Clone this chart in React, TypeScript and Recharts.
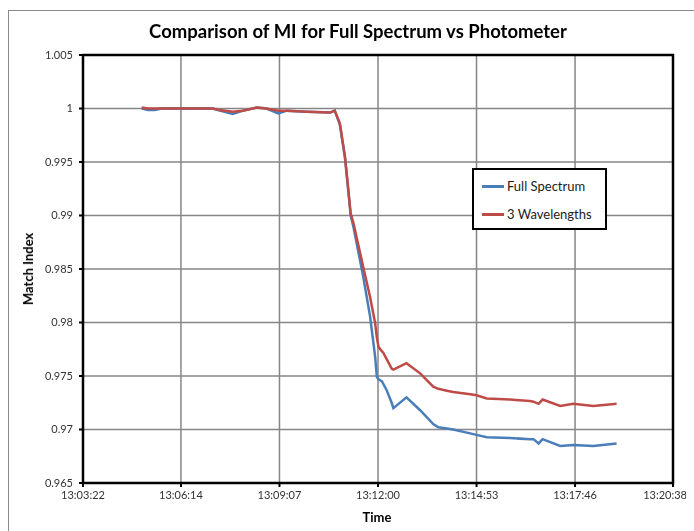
import { LineChart, Line, XAxis, YAxis, CartesianGrid, ReferenceArea } from 'recharts'

// sample times (hh:mm:ss)
const times = [
  '13:05:05', '13:05:16', '13:05:28', '13:05:40', '13:07:10', '13:07:22', '13:07:45', '13:08:03',
  '13:08:27', '13:08:44', '13:09:05', '13:09:20', '13:09:55', '13:10:36', '13:10:44', '13:10:53',
  '13:11:02', '13:11:08', '13:11:12', '13:11:17', '13:11:34', '13:11:46', '13:11:55', '13:11:58',
  '13:12:01', '13:12:07', '13:12:09', '13:12:15', '13:12:24', '13:12:27', '13:12:50', '13:13:14',
  '13:13:37', '13:13:46', '13:14:01', '13:14:12', '13:14:42', '13:14:53', '13:15:11', '13:15:52',
  '13:16:27', '13:16:33', '13:16:42', '13:16:49', '13:17:20', '13:17:43', '13:18:18', '13:18:59',
]

const fullSpectrum = [
  1.0, 0.99985, 0.99985, 1.0, 1.0, 0.9998, 0.9995, 0.9998,
  1.0001, 1.0, 0.99955, 0.9998, 0.9997, 0.99962, 0.9998, 0.9985,
  0.9954, 0.9922, 0.99, 0.9889, 0.9843, 0.9806, 0.9768, 0.9749,
  0.9747, 0.9745, 0.9743, 0.9737, 0.9725, 0.972, 0.973, 0.9718,
  0.9705, 0.9702, 0.9701, 0.97, 0.96964, 0.9695, 0.96927, 0.9692,
  0.9691, 0.9691, 0.9687, 0.9691, 0.96846, 0.96855, 0.96846, 0.9687,
]

const threeWavelengths = [
  1.0001, 1.0, 1.0, 1.0, 1.0, 0.99985, 0.9997, 0.9998,
  1.0001, 1.0, 0.9998, 0.9998, 0.9997, 0.99962, 0.9998, 0.99862,
  0.9955, 0.99238, 0.9902, 0.98927, 0.98521, 0.98241, 0.97993, 0.9786,
  0.9777, 0.9773, 0.9772, 0.9766, 0.9757, 0.9756, 0.9762, 0.97525,
  0.974, 0.9738, 0.97363, 0.9735, 0.9733, 0.9732, 0.9729, 0.9728,
  0.97266, 0.9726, 0.9724, 0.9728, 0.9722, 0.9724, 0.9722, 0.9724,
]

const xTickLabels = ['13:03:22', '13:06:14', '13:09:07', '13:12:00', '13:14:53', '13:17:46', '13:20:38']
const yTicks = [0.965, 0.97, 0.975, 0.98, 0.985, 0.99, 0.995, 1, 1.005]

const series = [
  { key: 'full', name: 'Full Spectrum', color: '#4a7ebb' },
  { key: 'three', name: '3 Wavelengths', color: '#be4b48' },
]

const toSec = (s: string) => {
  const [h, m, sec] = s.split(':').map(Number)
  return h * 3600 + m * 60 + sec
}
const pad = (n: number) => String(n).padStart(2, '0')
const fmtTime = (v: number) => {
  const r = Math.round(v)
  return `${Math.floor(r / 3600)}:${pad(Math.floor((r % 3600) / 60))}:${pad(r % 60)}`
}

const data = times.map((t, i) => ({
  t: toSec(t),
  full: fullSpectrum[i],
  three: threeWavelengths[i],
}))

const xTicks = xTickLabels.map(toSec)
const xMin = xTicks[0]
const xMax = xTicks[xTicks.length - 1]

const font = 'Lato, "Open Sans", sans-serif'
const tickStyle = { fontSize: 11, fill: '#333', fontFamily: font }

// last label would spill past the page edge, so pin its right end inside
function TimeTick(props: any) {
  const { x, y, payload } = props
  const last = payload.value === xMax
  return (
    <text
      x={last ? x + 14 : x}
      y={y}
      dy="0.71em"
      textAnchor={last ? 'end' : 'middle'}
      fontSize={11}
      fill="#333"
      fontFamily={font}
    >
      {fmtTime(payload.value)}
    </text>
  )
}

export default function App() {
  return (
    <div style={{ position: 'relative', width: 678, height: 515, fontFamily: font }}>
      <div
        style={{
          position: 'fixed',
          left: 8,
          top: 10,
          width: 800,
          height: 700,
          borderTop: '1px solid #8a8a8a',
          borderLeft: '1px solid #8a8a8a',
          pointerEvents: 'none',
        }}
      />
      <div
        style={{
          position: 'absolute',
          left: 350,
          top: 12,
          transform: 'translateX(-50%)',
          fontSize: 18.5,
          fontWeight: 700,
          color: '#000',
          whiteSpace: 'nowrap',
        }}
      >
        Comparison of MI for Full Spectrum vs Photometer
      </div>
      <div
        style={{
          position: 'absolute',
          left: 20,
          top: 261,
          transform: 'translate(-50%, -50%) rotate(-90deg)',
          fontSize: 13,
          fontWeight: 700,
          whiteSpace: 'nowrap',
          color: '#000',
        }}
      >
        Match Index
      </div>
      <div
        style={{
          position: 'absolute',
          left: 369,
          top: 501,
          transform: 'translateX(-50%)',
          fontSize: 13,
          fontWeight: 700,
          color: '#000',
        }}
      >
        Time
      </div>
      <LineChart width={686} height={515} data={data} margin={{ top: 47, right: 21, bottom: 10, left: 15 }}>
        <CartesianGrid stroke="#868686" strokeWidth={1.5} />
        <XAxis
          dataKey="t"
          type="number"
          domain={[xMin, xMax]}
          ticks={xTicks}
          height={30}
          tick={<TimeTick />}
          tickSize={4}
          tickMargin={4}
          stroke="#000"
          strokeWidth={2}
          interval={0}
          allowDataOverflow
        />
        <YAxis
          type="number"
          domain={[0.965, 1.005]}
          ticks={yTicks}
          tickFormatter={(v: number) => String(v)}
          width={60}
          tick={tickStyle}
          tickSize={4}
          tickMargin={6}
          stroke="#000"
          strokeWidth={2}
          interval={0}
          allowDataOverflow
        />
        <ReferenceArea
          x1={xMin}
          x2={xMax}
          y1={0.965}
          y2={1.005}
          fill="none"
          fillOpacity={0}
          stroke="#000"
          strokeWidth={2.5}
          ifOverflow="visible"
        />
        {series.map((s) => (
          <Line
            key={s.key}
            type="linear"
            dataKey={s.key}
            name={s.name}
            stroke={s.color}
            strokeWidth={2.5}
            dot={false}
            isAnimationActive={false}
          />
        ))}
      </LineChart>
      <div
        style={{
          position: 'absolute',
          left: 464,
          top: 160,
          width: 131,
          height: 56,
          border: '2px solid #000',
          background: '#fff',
          fontSize: 13,
          color: '#222',
          paddingTop: 2,
        }}
      >
        {series.map((s) => (
          <div key={s.key} style={{ display: 'flex', alignItems: 'center', height: 28, paddingLeft: 8 }}>
            <div style={{ width: 22, height: 3, background: s.color, marginRight: 3 }} />
            <span>{s.name}</span>
          </div>
        ))}
      </div>
    </div>
  )
}
